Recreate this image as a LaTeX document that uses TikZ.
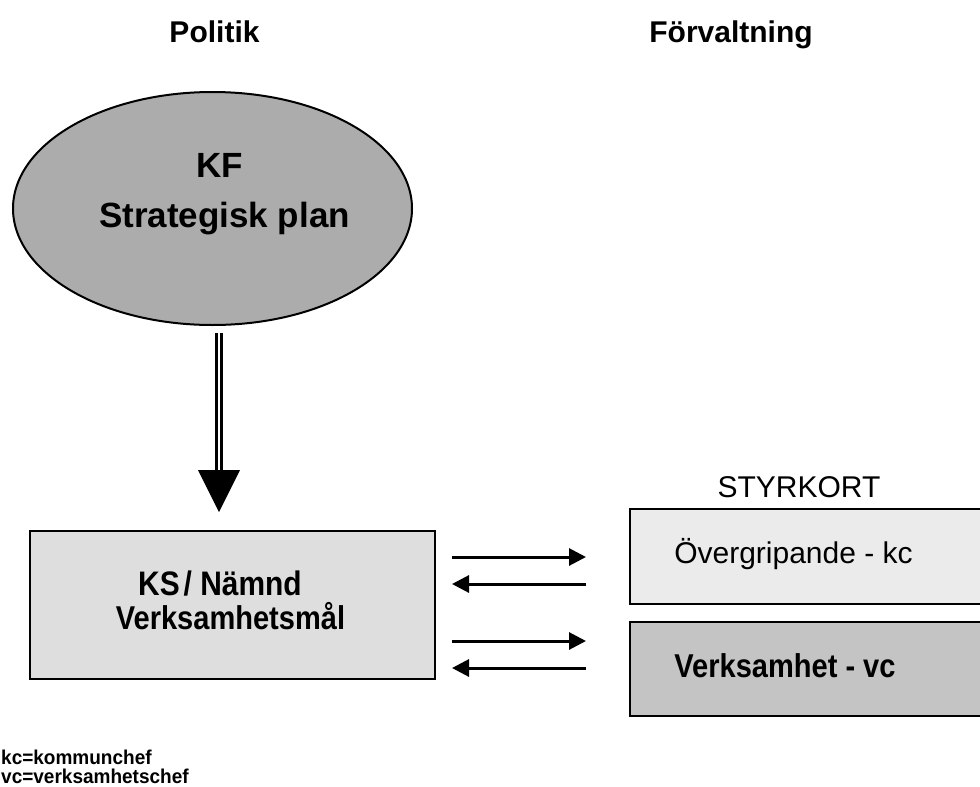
\documentclass[tikz,border=0pt]{standalone}
\usepackage{fontspec}
\setmainfont{Liberation Sans}
\newfontfamily\condfont[FakeStretch=0.88]{Liberation Sans}
\newfontfamily\legfont[FakeStretch=0.95]{Liberation Sans}
\usetikzlibrary{arrows.meta,shapes.geometric}
\definecolor{ellgray}{RGB}{172,172,172}
\definecolor{ksgray}{RGB}{222,222,222}
\definecolor{topgray}{RGB}{235,235,235}
\definecolor{botgray}{RGB}{196,196,196}
\tikzset{
  title/.style={anchor=base,font=\bfseries\fontsize{30}{36}\selectfont,inner sep=0},
  elltxt/.style={anchor=base,font=\bfseries\fontsize{35}{42}\selectfont,inner sep=0},
  condtxt/.style={anchor=base,font=\condfont\bfseries\fontsize{33}{40}\selectfont,inner sep=0},
  regtxt/.style={anchor=base,font=\fontsize{30}{36}\selectfont,inner sep=0},
  legendtxt/.style={anchor=base west,font=\legfont\bfseries\fontsize{20}{24}\selectfont,inner sep=0},
  boxshape/.style={draw=black,line width=2.5pt,rectangle,inner sep=0},
  smallarrow/.style={line width=3pt,-{Triangle[length=17pt,width=17pt]}},
  bigline/.style={draw=black,line width=3pt,double=white,double distance=2pt}
}
\begin{document}
\begin{tikzpicture}[x=1pt,y=-1pt]
\useasboundingbox (0,0) rectangle (980,787);
% titles
\node[title] (politik) at (214.5,42) {Politik};
\node[title] (forv) at (731,42) {Förvaltning};
% ellipse
\node[ellipse,draw=black,line width=2pt,fill=ellgray,minimum width=399pt,minimum height=233pt,inner sep=0] (kf) at (212.5,208.5) {};
\node[elltxt] (kft) at (219.5,177) {KF};
\node[elltxt] (spt) at (224.5,227) {Strategisk plan};
% KS box
\node[boxshape,fill=ksgray,minimum width=405pt,minimum height=148pt] (ks) at (232.5,605) {};
\node[condtxt,font=\condfont\bfseries\fontsize{34}{40}\selectfont] (kst) at (220,595) {KS\hspace{4pt}/ Nämnd};
\node[condtxt] (vmt) at (230.5,629) {Verksamhetsmål};
% big arrow
\coordinate (bigtop) at (219,333);
\coordinate (bigend) at (219,472);
\coordinate (tl) at (198,470);
\coordinate (tr) at (240,470);
\coordinate (tip) at (219,512);
\draw[bigline] (bigtop) -- (bigend);
\fill[black] (tl) -- (tr) -- (tip) -- cycle;
% right side
\node[regtxt] (styr) at (799,497) {STYRKORT};
\node[boxshape,fill=topgray,minimum width=355pt,minimum height=95pt] (ov) at (807.5,556.5) {};
\node[regtxt] (ovt) at (793.5,563) {Övergripande - kc};
\node[boxshape,fill=botgray,minimum width=355pt,minimum height=94pt] (vb) at (807.5,669) {};
\node[condtxt] (vbt) at (785,677) {Verksamhet - vc};
% small arrows
\coordinate (a1s) at (452,557); \coordinate (a1e) at (586,557);
\coordinate (a2s) at (586,584); \coordinate (a2e) at (452,584);
\coordinate (a3s) at (452,641); \coordinate (a3e) at (586,641);
\coordinate (a4s) at (586,668); \coordinate (a4e) at (452,668);
\draw[smallarrow] (a1s) -- (a1e);
\draw[smallarrow] (a2s) -- (a2e);
\draw[smallarrow] (a3s) -- (a3e);
\draw[smallarrow] (a4s) -- (a4e);
% legend
\node[legendtxt] (lg1) at (1,764) {kc=kommunchef};
\node[legendtxt] (lg2) at (1,783) {vc=verksamhetschef};
\end{tikzpicture}
\end{document}
